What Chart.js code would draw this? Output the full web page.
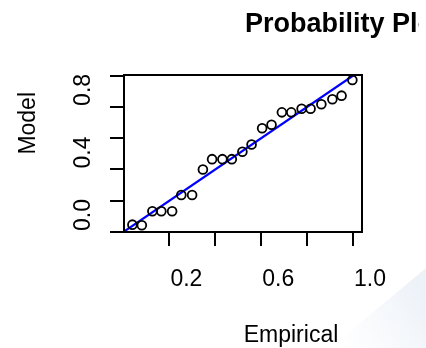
<!DOCTYPE html>
<html>
<head>
<meta charset="utf-8">
<script src="https://cdn.jsdelivr.net/npm/chart.js@4"></script>
<style>
  html, body { margin: 0; padding: 0; background: #ffffff; }
  #wrap { width: 426px; height: 348px; }
</style>
</head>
<body>
<div id="wrap"><canvas id="grafico" width="426" height="348"></canvas></div>
<script>
// valores
const empirical = [0.039, 0.080, 0.126, 0.165, 0.212, 0.252, 0.299, 0.346, 0.386, 0.431, 0.472, 0.518,
    0.558, 0.604, 0.645, 0.690, 0.731, 0.776, 0.815, 0.862, 0.910, 0.950, 0.997];
const model = [0.047, 0.043, 0.133, 0.133, 0.133, 0.237, 0.237, 0.400, 0.466, 0.466, 0.466, 0.513,
    0.560, 0.663, 0.686, 0.765, 0.765, 0.788, 0.788, 0.817, 0.849, 0.872, 0.972];
const refX = [0, 1.004];
const refY = [0, 1.004];
const xTickLabels = ["0.2", "0.6", "1.0"];
const yTickLabels = ["0.0", "0.4", "0.8"];

const FONTE = '"Liberation Sans", Arial, sans-serif';
Chart.defaults.font.family = FONTE;
Chart.defaults.color = "#000000";

// fundo, caixa do grafico e textos
const extras = {
    id: "extras",
    beforeDraw(chart) {
        const ctx = chart.ctx;
        ctx.save();
        const grad = ctx.createLinearGradient(340, 348, 426, 300);
        grad.addColorStop(0, "rgba(225,233,244,0)");
        grad.addColorStop(1, "rgba(215,226,241,0.45)");
        ctx.fillStyle = grad;
        ctx.beginPath();
        ctx.moveTo(330, 348);
        ctx.lineTo(426, 268);
        ctx.lineTo(426, 348);
        ctx.closePath();
        ctx.fill();
        ctx.restore();
    },
    afterDraw(chart) {
        const { ctx, chartArea: a } = chart;
        ctx.save();
        ctx.strokeStyle = "#000000";
        ctx.lineWidth = 2;
        ctx.strokeRect(a.left, a.top, a.right - a.left, a.bottom - a.top);

        ctx.fillStyle = "#000000";
        ctx.font = "23px " + FONTE;
        ctx.textAlign = "center";
        ctx.textBaseline = "alphabetic";
        ctx.fillText("Empirical", 291, 341.5);

        ctx.save();
        ctx.translate(35, 123.3);
        ctx.rotate(-Math.PI / 2);
        ctx.fillText("Model", 0, 0);
        ctx.restore();

        // titulo cortado na margem direita como no original
        ctx.beginPath();
        ctx.rect(0, 0, 419, 60);
        ctx.clip();
        ctx.font = "bold 27px " + FONTE;
        ctx.textAlign = "left";
        ctx.fillText("Probability Plot", 245, 31.5);
        ctx.restore();
    }
};

new Chart(document.getElementById("grafico").getContext("2d"), {
    type: "scatter",
    data: {
        datasets: [
            {
                data: empirical.map((v, i) => ({ x: v, y: model[i] })),
                pointStyle: "circle",
                pointRadius: 4.4,
                pointBorderWidth: 1.8,
                pointBorderColor: "#000000",
                pointBackgroundColor: "rgba(0,0,0,0)",
                showLine: false,
            },
            {
                data: refX.map((v, i) => ({ x: v, y: refY[i] })),
                showLine: true,
                borderColor: "#0000ff",
                borderWidth: 2.2,
                pointRadius: 0,
            },
        ],
    },
    options: {
        responsive: false,
        animation: false,
        devicePixelRatio: 1,
        layout: { padding: { top: 75, right: 64, bottom: 0, left: 0 } },
        plugins: { legend: { display: false }, tooltip: { enabled: false }, title: { display: false } },
        scales: {
            x: {
                type: "linear",
                min: 0.0024,
                max: 1.039,
                afterFit(scale) { scale.height = 116; },
                border: { display: true, color: "#000000", width: 2 },
                grid: { drawOnChartArea: false, drawTicks: true, tickLength: 14, color: "#000000", lineWidth: 2 },
                ticks: {
                    stepSize: 0.2,
                    includeBounds: false,
                    autoSkip: false,
                    maxRotation: 0,
                    padding: 20,
                    labelOffset: 17,
                    font: { size: 23 },
                    color: "#000000",
                    callback: (v) => {
                        const s = v.toFixed(1);
                        return xTickLabels.includes(s) ? s : "";
                    },
                },
            },
            y: {
                type: "linear",
                min: 0,
                max: 1.004,
                afterFit(scale) { scale.width = 124; },
                border: { display: true, color: "#000000", width: 2 },
                grid: { drawOnChartArea: false, drawTicks: true, tickLength: 14, color: "#000000", lineWidth: 2 },
                ticks: {
                    stepSize: 0.2,
                    includeBounds: false,
                    autoSkip: false,
                    minRotation: 90,
                    maxRotation: 90,
                    crossAlign: "center",
                    padding: 10,
                    labelOffset: -17,
                    font: { size: 23 },
                    color: "#000000",
                    callback: (v) => {
                        const s = v.toFixed(1);
                        return yTickLabels.includes(s) ? s : "";
                    },
                },
            },
        },
    },
    plugins: [extras],
});
</script>
</body>
</html>
